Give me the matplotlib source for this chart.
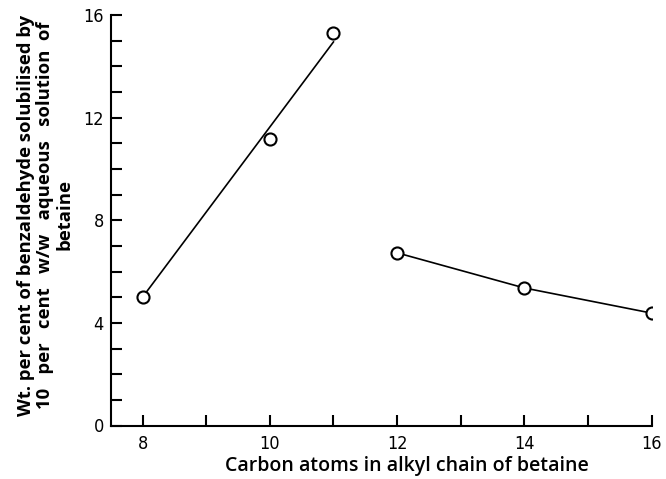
import matplotlib
matplotlib.use("Agg")
import matplotlib.pyplot as plt
from matplotlib.ticker import MultipleLocator, FixedLocator
import numpy as np

# Data
carbon_short = [8, 10, 11]
solub_short = [5.0, 11.15, 15.3]
carbon_long = [12, 14, 16]
solub_long = [6.73, 5.36, 4.38]
# hand-drawn trend line for the short-chain group (end points)
trend_x = [8, 11]
trend_y = [5.0, 14.95]

x_ticks = [8, 10, 12, 14, 16]
x_minor = [9, 11, 13, 15]
y_ticks = [0, 4, 8, 12, 16]

W, H, DPI = 666, 479, 100
fig = plt.figure(figsize=(W / DPI, H / DPI), dpi=DPI)
ax = fig.add_axes([110.7 / W, 1 - 425.5 / H, (651.7 - 110.7) / W, (425.5 - 15) / H])

ax.plot(trend_x, trend_y, color="black", lw=1.2, zorder=2)
ax.plot(carbon_short, solub_short, linestyle="none", marker="o", ms=8.7,
        mfc="white", mec="black", mew=1.5, zorder=3)
ax.plot(carbon_long, solub_long, color="black", lw=1.2, marker="o", ms=8.7,
        mfc="white", mec="black", mew=1.5, zorder=3)

ax.set_xlim(7.5, 16)
ax.set_ylim(0, 16)
for s in ["top", "right"]:
    ax.spines[s].set_visible(False)
for s in ["left", "bottom"]:
    ax.spines[s].set_linewidth(1.5)

ax.xaxis.set_major_locator(FixedLocator(x_ticks))
ax.xaxis.set_minor_locator(FixedLocator(x_minor))
ax.yaxis.set_major_locator(FixedLocator(y_ticks))
ax.yaxis.set_minor_locator(MultipleLocator(1))
ax.tick_params(which="both", direction="in", length=8, width=1.5)
ax.tick_params(axis="x", which="major", pad=7)
ax.tick_params(axis="y", which="major", pad=5)

tick_font = dict(family="DejaVu Sans", stretch="condensed", size=13)
ax.set_xticklabels([str(v) for v in x_ticks], **tick_font)
ax.set_yticklabels([str(v) for v in y_ticks], **tick_font)

fig.text(407 / W, 1 - 466 / H, "Carbon atoms in alkyl chain of betaine",
         ha="center", va="center", family="Open Sans", fontsize=14, fontweight="semibold")
fig.text(45 / W, 1 - 215 / H,
         "Wt. per cent of benzaldehyde solubilised by\n"
         "10   per   cent   w/w   aqueous   solution  of\n"
         "betaine",
         ha="center", va="center", rotation=90, multialignment="center",
         family="Open Sans", fontsize=13.3, fontweight="bold", linespacing=1.08)

fig.savefig("out.png", dpi=DPI)
